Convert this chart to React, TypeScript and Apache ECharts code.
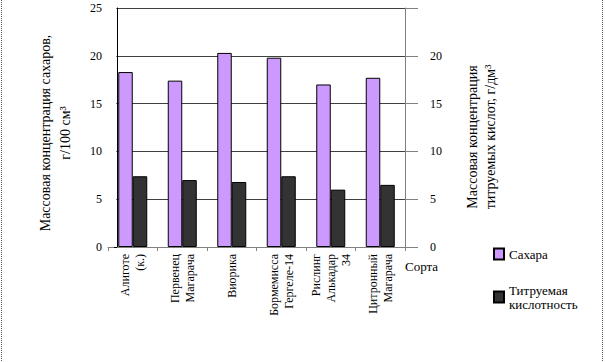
import React, { useEffect, useRef } from "react";
import * as echarts from "echarts";

const categories = [
  "Алиготе\n(к.)",
  "Первенец\nМагарача",
  "Виорика",
  "Бормемисса\nГергеле-14",
  "Рислинг\nАлькадар\n34",
  "Цитронный\nМагарача",
];
const sugarName = "Сахара";
const acidName = "Титруемая\nкислотность";
const sugarValues = [18.3, 17.4, 20.3, 19.8, 17.0, 17.7];
const acidValues = [7.4, 7.0, 6.8, 7.4, 6.0, 6.5];
const leftTicks = [0, 5, 10, 15, 20, 25];
const rightTicks = [0, 5, 10, 15, 20];

const FONT = "'Liberation Serif', 'Times New Roman', serif";

export default function App() {
  const ref = useRef<HTMLDivElement>(null);
  useEffect(() => {
    if (!ref.current) return;
    const chart = echarts.init(ref.current, null, { renderer: "svg" });
    chart.setOption({
      animation: false,
      backgroundColor: "#ffffff",
      textStyle: { fontFamily: FONT },
      grid: { left: 108, right: 200, top: 8, bottom: 115, containLabel: false },
      xAxis: {
        type: "category",
        data: categories,
        axisLine: { show: true, lineStyle: { color: "#808080", width: 1 } },
        axisTick: { show: true, length: 4, lineStyle: { color: "#808080" } },
        axisLabel: {
          interval: 0,
          rotate: 90,
          margin: 7,
          fontFamily: FONT,
          fontSize: 12,
          lineHeight: 15,
          color: "#000",
        },
      },
      yAxis: [
        {
          type: "value",
          min: leftTicks[0],
          max: leftTicks[leftTicks.length - 1],
          interval: 5,
          offset: -9,
          axisLine: { show: true, lineStyle: { color: "#000", width: 1 } },
          axisTick: { show: true, length: 3, lineStyle: { color: "#000" } },
          axisLabel: { margin: 15, fontFamily: FONT, fontSize: 12, color: "#000" },
          splitLine: { show: true, lineStyle: { color: "#404040", width: 1 } },
        },
        {
          type: "value",
          position: "right",
          min: rightTicks[0],
          max: 25,
          interval: 5,
          axisLine: { show: true, lineStyle: { color: "#808080", width: 1 } },
          axisTick: { show: true, length: 13, lineStyle: { color: "#808080" } },
          axisLabel: {
            margin: 25,
            fontFamily: FONT,
            fontSize: 12,
            color: "#000",
            formatter: (v: number) => (rightTicks.indexOf(v) >= 0 ? String(v) : ""),
          },
          splitLine: { show: false },
        },
      ],
      legend: {
        orient: "vertical",
        left: 488,
        top: 242,
        itemWidth: 10,
        itemHeight: 11,
        itemGap: 22,
        icon: "rect",
        data: [sugarName, acidName],
        textStyle: { fontFamily: FONT, fontSize: 13, lineHeight: 14, color: "#000" },
      },
      series: [
        {
          name: sugarName,
          type: "bar",
          yAxisIndex: 0,
          data: sugarValues,
          barWidth: 14.5,
          barGap: "0%",
          itemStyle: { color: "#CC99FF", borderColor: "#000", borderWidth: 1 },
        },
        {
          name: acidName,
          type: "bar",
          yAxisIndex: 1,
          data: acidValues,
          barWidth: 14.5,
          barGap: "0%",
          itemStyle: { color: "#333333", borderColor: "#000", borderWidth: 1 },
        },
      ],
      graphic: [
        {
          type: "rect",
          shape: { x: 108, y: 0, width: 8.5, height: 246 },
          style: { fill: "#ffffff" },
          z: 10,
        },
        {
          type: "text",
          x: 55,
          y: 133,
          rotation: Math.PI / 2,
          style: {
            text: "Массовая концентрация сахаров,\nг/100 см³",
            align: "center",
            verticalAlign: "middle",
            font: `14px ${FONT}`,
            lineHeight: 20,
            fill: "#000",
          },
        },
        {
          type: "text",
          x: 481,
          y: 137,
          rotation: Math.PI / 2,
          style: {
            text: "Массовая концентрация\nтитруемых кислот, г/дм³",
            align: "center",
            verticalAlign: "middle",
            font: `14px ${FONT}`,
            lineHeight: 18,
            fill: "#000",
          },
        },
        {
          type: "text",
          x: 405,
          y: 266,
          style: {
            text: "Сорта",
            align: "left",
            verticalAlign: "middle",
            font: `13px ${FONT}`,
            fill: "#000",
          },
        },
        {
          type: "line",
          shape: { x1: 1.5, y1: 0, x2: 1.5, y2: 362 },
          style: { stroke: "#555", lineWidth: 1, lineDash: [1, 1] },
        },
        {
          type: "line",
          shape: { x1: 602.5, y1: 0, x2: 602.5, y2: 362 },
          style: { stroke: "#555", lineWidth: 1, lineDash: [1, 1] },
        },
      ],
    });
    return () => chart.dispose();
  }, []);
  return (
    <div
      ref={ref}
      style={{ position: "absolute", left: 0, top: 0, width: 605, height: 362, background: "#fff" }}
    />
  );
}
